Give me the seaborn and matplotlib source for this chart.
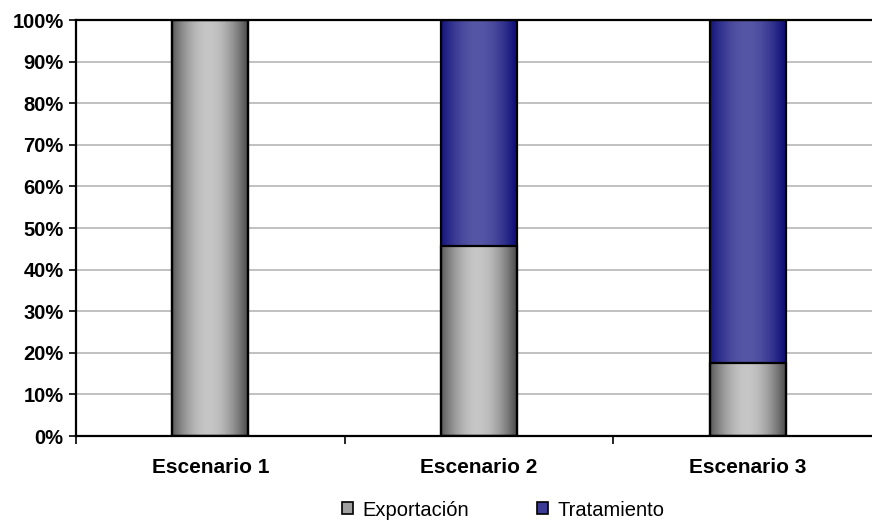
import numpy as np
import pandas as pd
import matplotlib
matplotlib.use("Agg")
import matplotlib.pyplot as plt
import seaborn as sns
from matplotlib.patches import Patch
from matplotlib.colors import to_rgb

# ---- data ----
categories = ["Escenario 1", "Escenario 2", "Escenario 3"]
exportacion = [100.0, 45.7, 17.6]
tratamiento = [0.0, 54.3, 82.4]
series_names = ["Exportación", "Tratamiento"]
ytick_values = [0, 10, 20, 30, 40, 50, 60, 70, 80, 90, 100]
ytick_labels = [f"{v}%" for v in ytick_values]

gray_edge, gray_mid = "#585858", "#c6c6c6"
blue_edge, blue_mid = "#12127a", "#5656a6"

sns.set_theme(style="white")
plt.rcParams["font.family"] = ["Liberation Sans", "DejaVu Sans"]
plt.rcParams["text.color"] = "black"
plt.rcParams["xtick.color"] = "black"
plt.rcParams["ytick.color"] = "black"

fig = plt.figure(figsize=(8.72, 5.24), dpi=100)
ax = fig.add_axes([76 / 872, 88 / 524, (882 - 76) / 872, (436 - 20) / 524])

df = pd.DataFrame({
    "cat": categories,
    "exp": exportacion,
    "total": [e + t for e, t in zip(exportacion, tratamiento)],
})

sns.barplot(data=df, x="cat", y="total", color=blue_mid, width=0.283, ax=ax,
            edgecolor="black", linewidth=1.6, saturation=1)
n_first = len(ax.patches)
sns.barplot(data=df, x="cat", y="exp", color=gray_mid, width=0.283, ax=ax,
            edgecolor="black", linewidth=1.6, saturation=1)


def gradient(edge, mid, n=256):
    t = np.linspace(0, 1, n)
    prof = np.sin(np.pi * np.clip(t * 1.05, 0, 1)) ** 0.9
    e = np.array(to_rgb(edge))
    m = np.array(to_rgb(mid))
    row = e[None, :] + (m - e)[None, :] * prof[:, None]
    return row[None, :, :]

grad_blue = gradient(blue_edge, blue_mid)
grad_gray = gradient(gray_edge, gray_mid)

for i, p in enumerate(ax.patches):
    x0, y0 = p.get_x(), p.get_y()
    w, h = p.get_width(), p.get_height()
    if h <= 0:
        continue
    first = i < n_first
    img = grad_blue if first else grad_gray
    ax.imshow(img, extent=(x0, x0 + w, y0, y0 + h), aspect="auto",
              interpolation="bilinear", zorder=2 if first else 2.5)
    p.set_facecolor("none")
    p.set_zorder(3)

ax.set_xlim(-0.5, 2.5)
ax.set_ylim(0, 100)
ax.set_aspect("auto")

# grid
for v in ytick_values[1:-1]:
    ax.axhline(v, color="#b0b0b0", linewidth=1.1, zorder=1)

ax.set_yticks(ytick_values)
ax.set_yticklabels(ytick_labels, fontsize=14.5, fontweight="bold", color="black")
ax.tick_params(axis="y", direction="out", length=5, width=1.2, color="black",
               left=True, pad=4)

ax.set_xticks([0, 1, 2])
ax.set_xticklabels(categories, fontsize=15, fontweight="bold", color="black")
ax.tick_params(axis="x", length=0, pad=16)
ax.set_xticks([-0.5, 0.5, 1.5, 2.5], minor=True)
ax.tick_params(axis="x", which="minor", direction="out", length=6, width=1.2,
               color="black", bottom=True)

ax.set_xlabel("")
ax.set_ylabel("")
for s in ["left", "bottom", "top"]:
    ax.spines[s].set_visible(True)
    ax.spines[s].set_color("black")
    ax.spines[s].set_linewidth(1.6)
ax.spines["right"].set_visible(False)

handles = [Patch(facecolor="#a0a0a0", edgecolor="black", linewidth=1.2),
           Patch(facecolor="#3c3c96", edgecolor="black", linewidth=1.2)]
leg = fig.legend(handles, series_names, loc="center",
                 bbox_to_anchor=(503 / 872, 1 - 510 / 524), ncol=2, frameon=False,
                 fontsize=14.5, handlelength=0.55, handleheight=0.55,
                 handletextpad=0.45, columnspacing=3.4)
for t in leg.get_texts():
    t.set_color("black")

fig.savefig("out.png", dpi=100)
